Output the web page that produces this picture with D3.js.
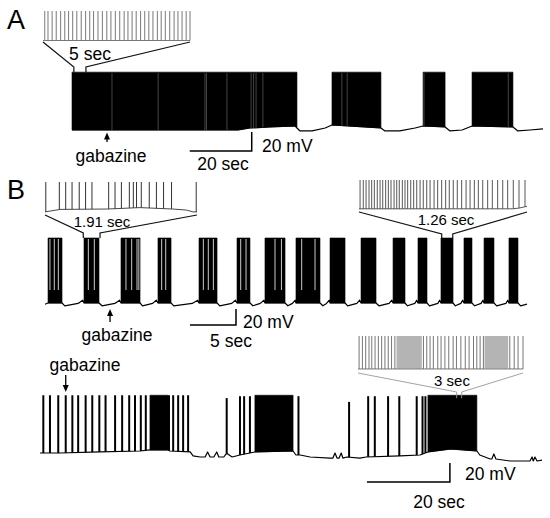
<!DOCTYPE html>
<html>
<head>
<meta charset="utf-8">
<script src="https://cdn.jsdelivr.net/npm/d3@7"></script>
<style>
body { margin: 0; background: #fff; }
text { font-family: "Liberation Sans", Arial, sans-serif; fill: #000; }
</style>
</head>
<body>
<div id="fig"></div>
<script>
// ---------------- panel A ----------------
var aDuration = 152;            // s
var aPeak = 3;                  // mV, top of spikes
var aBursts = [[0, 72.6], [83.9, 99.7], [113.3, 120.4], [129.1, 142.3]];
var aGaps = [12.9, 27.8, 42.9, 43.4, 50.0, 57.8, 58.6, 59.4, 61.6, 87.1, 88.8, 113.6, 140.8];
var aBaseline = [[0, -57.9], [53.6, -57.9], [57.4, -55.8], [63.9, -54.7], [72.0, -53.7], [72.6, -55.8], [73.6, -58.9],
    [77.5, -58.9], [81.7, -55.8], [83.9, -52.6], [99.7, -55.8], [101.0, -58.9], [105.8, -58.9], [110.7, -55.8],
    [113.3, -53.7], [120.4, -54.7], [122.0, -58.9], [125.9, -57.9], [129.1, -53.7], [142.3, -54.7], [143.9, -58.9],
    [147.8, -57.9], [152, -56.8]];
var aInsetDuration = 5;
var aInsetSpikes = [0.06, 0.17, 0.31, 0.45, 0.60, 0.74, 0.87, 1.01, 1.15, 1.30, 1.45, 1.59, 1.72, 1.87, 2.02, 2.17,
    2.31, 2.46, 2.61, 2.76, 2.89, 3.03, 3.17, 3.32, 3.46, 3.60, 3.74, 3.89, 4.02, 4.16, 4.31, 4.46, 4.59, 4.73, 4.87, 5.00];
var aInsetBaseline = [[0, -57], [5, -57]];
var aInsetWindow = [0.6, 4.5];
var aGabazine = 11.3;

// ---------------- panel B, upper trace ----------------
var b1Duration = 52.39;
var b1Peak = 23.75;
var b1Bursts = [[0.33, 1.85], [4.24, 5.87], [8.26, 10.33], [12.28, 13.70], [16.74, 18.70], [20.87, 22.28],
    [23.91, 26.09], [27.28, 29.89], [30.98, 32.61], [34.35, 35.98], [37.83, 39.13], [40.54, 41.52],
    [43.04, 44.35], [45.54, 46.41], [47.72, 48.80], [50.43, 51.41]];
var b1Gaps = [0.54, 1.01, 1.45, 4.71, 5.36, 8.80, 9.42, 10.0, 10.2, 12.68, 13.12, 17.21, 17.75, 18.30,
    21.27, 21.85, 25.0, 25.7, 27.9, 29.35];
var b1Baseline = [[0, -59], [0.33, -57.5], [1.85, -57.5], [2.15, -61], [3.6, -58], [4.1, -54], [4.24, -57.5],
    [5.87, -57.5], [6.2, -61], [7.6, -58], [8.1, -54], [8.26, -57.5], [10.33, -57.5], [10.6, -61], [11.7, -58],
    [12.1, -54], [12.28, -57.5], [13.70, -57.5], [14.0, -61], [16.0, -58], [16.6, -54], [16.74, -57.5],
    [18.70, -57.5], [19.0, -61], [20.3, -58], [20.7, -54], [20.87, -57.5], [22.28, -57.5], [22.6, -61],
    [23.4, -58], [23.8, -54], [23.91, -57.5], [26.09, -57.5], [26.4, -61], [26.9, -58], [27.2, -54],
    [27.28, -57.5], [29.89, -57.5], [30.2, -61], [30.6, -58], [30.9, -54], [30.98, -57.5], [32.61, -57.5],
    [32.9, -61], [33.9, -58], [34.2, -54], [34.35, -57.5], [35.98, -57.5], [36.3, -61], [37.4, -58], [37.7, -54],
    [37.83, -57.5], [39.13, -57.5], [39.4, -61], [40.2, -58], [40.4, -54], [40.54, -57.5], [41.52, -57.5],
    [41.8, -61], [42.7, -58], [42.9, -54], [43.04, -57.5], [44.35, -57.5], [44.6, -61], [45.2, -58], [45.4, -54],
    [45.54, -57.5], [46.41, -57.5], [46.7, -61], [47.4, -58], [47.6, -54], [47.72, -57.5], [48.80, -57.5],
    [49.1, -61], [50.1, -58], [50.3, -54], [50.43, -57.5], [51.41, -57.5], [51.7, -61], [52.39, -59]];
var b1InsetDuration = 1.91;
var b1InsetSpikes = [0.01, 0.18, 0.26, 0.34, 0.43, 0.51, 0.59, 0.80, 0.88, 0.96, 1.06, 1.11, 1.15, 1.21,
    1.31, 1.40, 1.49, 1.59, 1.90];
var b1InsetBaseline = [[0, -60], [0.19, -53], [0.78, -52], [1.19, -48], [1.61, -52], [1.78, -55], [1.86, -60], [1.91, -60]];
var b1InsetWindow = [4.16, 5.98];
var b2InsetDuration = 1.26;
var b2InsetSpikes = [0.008, 0.032, 0.053, 0.075, 0.095, 0.115, 0.137, 0.158, 0.178, 0.200, 0.220, 0.240,
    0.263, 0.283, 0.302, 0.325, 0.345, 0.365, 0.388, 0.410, 0.433, 0.458, 0.482, 0.508, 0.533, 0.563, 0.590,
    0.620, 0.650, 0.677, 0.707, 0.737, 0.770, 0.803, 0.833, 0.865, 0.895, 0.928, 0.965, 1.000, 1.040, 1.078,
    1.115, 1.157, 1.200, 1.245];
var b2InsetBaseline = [[0, -57], [1.15, -57], [1.2, -55], [1.26, -50]];
var b2InsetWindow = [43.12, 44.32];
var b1Gabazine = 7.07;

// ---------------- panel B, lower trace ----------------
var b3Duration = 121;
var b3Peak = 5;
var b3Bursts = [[26.5, 30.9], [51.8, 61.0], [93.5, 105.3]];
var b3Spikes = [[0.8, 5], [2.4, 5], [4.4, 5], [6.2, 5], [7.8, 5], [9.2, 5], [11.0, 5], [12.6, 5], [14.3, 5],
    [15.8, 5], [18.1, 5], [19.8, 5], [21.5, 5], [22.9, 5], [24.3, 5], [25.5, 5], [31.1, 5], [32.1, 5], [33.3, 5],
    [34.5, 5], [35.7, 5], [45.0, 2], [48.2, 4], [49.2, 4], [50.6, 4], [62.3, 4], [74.5, -2], [79.1, 4],
    [80.7, 4], [83.9, 4], [86.6, 4], [90.8, 4], [92.2, 4], [92.9, 4]];
var b3Baseline = [[0, -55.8], [4.8, -55.8], [14.5, -54.7], [24.1, -53.7], [26.5, -52.6], [30.9, -52.6],
    [31.3, -53.7], [36.2, -54.7], [36.9, -58.9], [38.6, -60], [39.8, -60], [40.4, -54.7], [41.0, -60], [41.9, -60],
    [42.6, -54.7], [43.1, -60], [44.3, -60], [45.0, -56], [46.3, -60], [48.2, -57.9], [50.6, -55.8], [51.8, -54.7],
    [61.0, -53.7], [61.7, -57.9], [62.7, -57.9], [65.1, -60], [69.9, -61.1], [70.6, -61.1], [71.1, -55.8],
    [71.6, -61.1], [72.1, -61.1], [72.6, -55.8], [73.0, -61.1], [74.0, -60], [77.1, -61.1], [78.6, -60],
    [86.8, -58.9], [91.6, -57.9], [93.5, -54.7], [99.0, -51.6], [105.3, -53.7], [106.0, -57.9], [108.5, -62.1],
    [108.9, -62.1], [109.4, -56.8], [109.9, -62.1], [113.3, -64.2], [118.1, -64.2], [118.6, -60], [118.9, -64.2],
    [119.3, -60], [119.8, -64.2], [121, -63.2]];
var b3InsetDuration = 3;
var b3InsetSpikes = [0.02, 0.08, 0.14, 0.20, 0.25, 0.31, 0.37, 0.43, 0.49, 0.55, 0.61, 0.67, 1.19, 1.25, 1.31,
    1.37, 1.45, 1.51, 1.58, 1.65, 1.73, 1.79, 1.87, 1.95, 2.02, 2.10, 2.16, 2.22, 2.28, 2.76, 2.84, 2.91, 3.0];
var b3InsetDense = [[0.70, 1.16], [2.30, 2.73]];
var b3InsetBaseline = [[0, -58], [3, -58]];
var b3InsetWindow = [100.43, 101.64];
var b3Gabazine = 6.2;


var svg = d3.select("#fig")
    .append("svg")
    .attr("width", 550)
    .attr("height", 518);

function levelAt(base, t) {
    var i = d3.bisector(function(d) { return d[0]; }).left(base, t);
    if (i <= 0) return base[0][1];
    if (i >= base.length) return base[base.length - 1][1];
    var a = base[i - 1], b = base[i];
    return a[1] + (b[1] - a[1]) * (t - a[0]) / (b[0] - a[0]);
}

function lineOf(x, y) {
    return d3.line()
        .x(function(d) { return x(d[0]); })
        .y(function(d) { return y(d[1]); });
}

function drawTrace(x, y, base, bursts, peak) {
    var g = svg.append("g");
    g.append("path")
        .datum(base)
        .attr("d", lineOf(x, y))
        .style("fill", "none")
        .style("stroke", "#000")
        .style("stroke-width", 1.2)
        .style("stroke-linejoin", "round");
    var area = d3.area()
        .x(function(d) { return x(d[0]); })
        .y0(y(peak))
        .y1(function(d) { return y(d[1]); });
    g.selectAll("path.burst")
        .data(bursts)
        .enter()
        .append("path")
        .attr("class", "burst")
        .attr("d", function(b) {
            return area(base.filter(function(d) { return d[0] >= b[0] && d[0] <= b[1]; }));
        })
        .style("fill", "#000")
        .style("stroke", "#000")
        .style("stroke-width", 0.6);
    return g;
}

function drawGaps(g, x, y, gaps, base, peak, colour, reach) {
    g.selectAll("line.gap")
        .data(gaps)
        .enter()
        .append("line")
        .attr("class", "gap")
        .attr("x1", function(d) { return x(d); })
        .attr("x2", function(d) { return x(d); })
        .attr("y1", y(peak) + 1)
        .attr("y2", function(d) { return y(peak) + (y(levelAt(base, d)) - y(peak)) * reach; })
        .style("stroke", colour)
        .style("stroke-width", 0.8);
}

function drawInset(x, y, spikes, base, peak, colour, width) {
    var g = svg.append("g");
    g.append("path")
        .datum(base)
        .attr("d", lineOf(x, y))
        .style("fill", "none")
        .style("stroke", colour)
        .style("stroke-width", 0.9);
    g.selectAll("line")
        .data(spikes)
        .enter()
        .append("line")
        .attr("x1", function(d) { return x(d); })
        .attr("x2", function(d) { return x(d); })
        .attr("y1", function(d) { return y(levelAt(base, d)); })
        .attr("y2", y(peak))
        .style("stroke", colour)
        .style("stroke-width", width);
    return g;
}

function drawZoom(xi, yCorner, xm, win, bendY, endY, colour, width) {
    var dur = xi.domain()[1];
    var pts = [
        [[xi(0), yCorner], [xm(win[0]), bendY], [xm(win[0]), endY]],
        [[xi(dur), yCorner], [xm(win[1]), bendY], [xm(win[1]), endY]]
    ];
    svg.append("g")
        .selectAll("path")
        .data(pts)
        .enter()
        .append("path")
        .attr("d", d3.line())
        .style("fill", "none")
        .style("stroke", colour)
        .style("stroke-width", width);
}

function drawScaleBar(x, y, t0, v0, dt, dv) {
    svg.append("path")
        .attr("d", d3.line()([[x(t0), y(v0)], [x(t0 + dt), y(v0)], [x(t0 + dt), y(v0 + dv)]]))
        .style("fill", "none")
        .style("stroke", "#000")
        .style("stroke-width", 1.5);
}

function drawArrow(xPos, yTip, yTail) {
    var dir = yTail > yTip ? 1 : -1;
    svg.append("line")
        .attr("x1", xPos).attr("x2", xPos)
        .attr("y1", yTail).attr("y2", yTip + dir * 4)
        .style("stroke", "#000")
        .style("stroke-width", 1.3);
    svg.append("path")
        .attr("d", d3.line()([[xPos, yTip], [xPos - 3, yTip + dir * 7], [xPos + 3, yTip + dir * 7]]) + "Z")
        .style("fill", "#000");
}

function label(txt, x, y, size, anchor) {
    svg.append("text")
        .attr("x", x)
        .attr("y", y)
        .attr("text-anchor", anchor || "middle")
        .style("font-size", size + "px")
        .text(txt);
}

// ---------- A ----------
var xA = d3.scaleLinear().domain([0, aDuration]).range([72, 543]);
var yA = d3.scaleLinear().domain([-60, 0]).range([132, 75]);
var gA = drawTrace(xA, yA, aBaseline, aBursts, aPeak);
drawGaps(gA, xA, yA, aGaps, aBaseline, aPeak, "#555", 1);

var xAi = d3.scaleLinear().domain([0, aInsetDuration]).range([43, 190]);
var yAi = d3.scaleLinear().domain([-58, aPeak]).range([41, 11]);
drawInset(xAi, yAi, aInsetSpikes, aInsetBaseline, aPeak, "#6a6a6a", 0.9);
drawZoom(xAi, 42, xA, aInsetWindow, 67, yA(aPeak), "#111", 1.2);
label("5 sec", 90, 60, 17.5);

drawScaleBar(xA, yA, 38, -80, 20, 20);
label("20 mV", 262, 152, 17.5, "start");
label("20 sec", 223, 170, 17.5);
drawArrow(xA(aGabazine), 132.5, 142);
label("gabazine", 111, 162, 17.5);
label("A", 7, 29, 27, "start");

// ---------- B upper ----------
var xB1 = d3.scaleLinear().domain([0, b1Duration]).range([45, 527]);
var yB1 = d3.scaleLinear().domain([-60, 0]).range([305, 257]);
var gB1 = drawTrace(xB1, yB1, b1Baseline, b1Bursts, b1Peak);
drawGaps(gB1, xB1, yB1, b1Gaps, b1Baseline, b1Peak, "#fff", 0.8);

var xB1i = d3.scaleLinear().domain([0, b1InsetDuration]).range([45, 197]);
var yB1i = d3.scaleLinear().domain([-57.5, b1Peak]).range([211, 182]);
drawInset(xB1i, yB1i, b1InsetSpikes, b1InsetBaseline, b1Peak, "#333", 1);
drawZoom(xB1i, 215, xB1, b1InsetWindow, 233, yB1(b1Peak), "#111", 1.2);
label("1.91 sec", 102, 227, 15);

var xB2i = d3.scaleLinear().domain([0, b2InsetDuration]).range([359, 527]);
var yB2i = d3.scaleLinear().domain([-57.5, b1Peak]).range([209, 180]);
drawInset(xB2i, yB2i, b2InsetSpikes, b2InsetBaseline, b1Peak, "#444", 0.9);
drawZoom(xB2i, 212, xB1, b2InsetWindow, 234, yB1(b1Peak), "#111", 1.2);
label("1.26 sec", 446, 225, 15);

drawScaleBar(xB1, yB1, 15.76, -85, 5, 20);
label("20 mV", 243, 328, 17.5, "start");
label("5 sec", 231, 347, 17.5);
drawArrow(xB1(b1Gabazine), 309, 322);
label("gabazine", 117, 341, 17.5);
label("B", 7, 199, 27, "start");

// ---------- B lower ----------
var xB3 = d3.scaleLinear().domain([0, b3Duration]).range([40, 542]);
var yB3 = d3.scaleLinear().domain([-60, 0]).range([457, 400]);
var gB3 = drawTrace(xB3, yB3, b3Baseline, b3Bursts, b3Peak);
gB3.selectAll("line.spike")
    .data(b3Spikes)
    .enter()
    .append("line")
    .attr("class", "spike")
    .attr("x1", function(d) { return xB3(d[0]); })
    .attr("x2", function(d) { return xB3(d[0]); })
    .attr("y1", function(d) { return yB3(levelAt(b3Baseline, d[0])); })
    .attr("y2", function(d) { return yB3(d[1]); })
    .style("stroke", "#000")
    .style("stroke-width", 2);

var xB3i = d3.scaleLinear().domain([0, b3InsetDuration]).range([358, 523]);
var yB3i = d3.scaleLinear().domain([-60, b3Peak]).range([370, 336]);
var gB3i = drawInset(xB3i, yB3i, b3InsetSpikes, b3InsetBaseline, b3Peak, "#666", 0.9);
gB3i.selectAll("rect")
    .data(b3InsetDense)
    .enter()
    .append("rect")
    .attr("x", function(d) { return xB3i(d[0]); })
    .attr("width", function(d) { return xB3i(d[1]) - xB3i(d[0]); })
    .attr("y", yB3i(b3Peak))
    .attr("height", yB3i(-58) - yB3i(b3Peak))
    .style("fill", "#8c8c8c")
    .style("opacity", 0.65);
drawZoom(xB3i, 373, xB3, b3InsetWindow, 392, yB3(b3Peak) + 3, "#999", 0.9);
label("3 sec", 452, 386, 15);

drawScaleBar(xB3, yB3, 78.8, -86.3, 20, 20);
label("20 mV", 465, 480, 17.5, "start");
label("20 sec", 439, 508, 17.5);
drawArrow(xB3(b3Gabazine), 392, 375);
label("gabazine", 85, 371, 17.5);
</script>
</body>
</html>
